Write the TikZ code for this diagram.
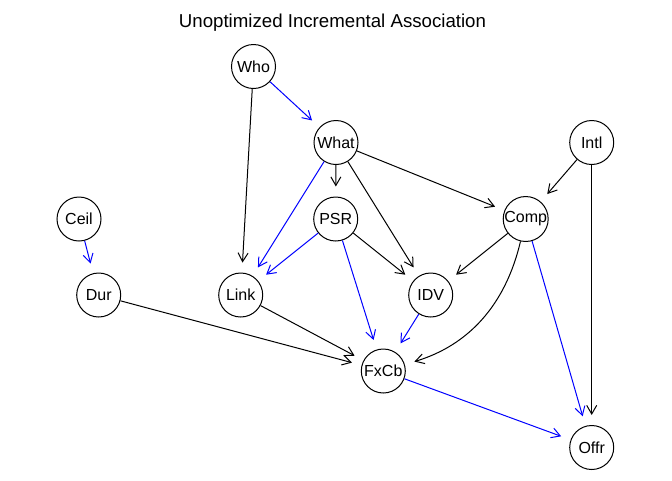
\documentclass[tikz,border=0pt]{standalone}
\usepackage{fontspec}
\setmainfont{Liberation Sans}
\usetikzlibrary{arrows.meta}
\begin{document}
\begin{tikzpicture}[x=0.75pt,y=-0.75pt,
  var/.style={circle, fill=none, draw=black, line width=0.75pt, minimum size=33pt, inner sep=0pt, font=\fontsize{12}{14}\selectfont},
  edge/.style={draw=black, line width=0.75pt, -{Straight Barb[angle=60:7.5pt]}, shorten >=7.5pt},
  bedge/.style={edge, draw=blue}]
\useasboundingbox (0,0) rectangle (672,480);
\node [anchor=base, font=\fontsize{14}{16}\selectfont] (title) at (332.5,27.7) {Unoptimized Incremental Association};
\node [var] (who) at (253.5,66.5) {Who};
\node [var] (what) at (336,142.5) {What};
\node [var] (intl) at (591.7,142.5) {Intl};
\node [var] (ceil) at (79,219) {Ceil};
\node [var] (psr) at (335.7,219) {PSR};
\node [var] (comp) at (525.7,219) {Comp};
\node [var] (dur) at (98.7,295) {Dur};
\node [var] (link) at (240.7,295) {Link};
\node [var] (idv) at (430.7,295) {IDV};
\node [var] (fxcb) at (383.3,371) {FxCb};
\node [var] (offr) at (591.7,447.5) {Offr};
\draw [bedge] (who) -- (what);
\draw [edge] (who) -- (link);
\draw [edge] (what) -- (psr);
\draw [bedge] (what) -- (link);
\draw [edge] (what) -- (idv);
\draw [edge] (what) -- (comp);
\draw [edge] (intl) -- (comp);
\draw [edge] (intl) -- (offr);
\draw [bedge] (ceil) -- (dur);
\draw [bedge] (psr) -- (link);
\draw [edge] (psr) -- (idv);
\draw [bedge] (psr) -- (fxcb);
\draw [edge] (comp) -- (idv);
\draw [edge] (comp) to [bend left=30] (fxcb);
\draw [bedge] (comp) -- (offr);
\draw [edge] (dur) -- (fxcb);
\draw [edge] (link) -- (fxcb);
\draw [bedge] (idv) -- (fxcb);
\draw [bedge] (fxcb) -- (offr);
\end{tikzpicture}
\end{document}
